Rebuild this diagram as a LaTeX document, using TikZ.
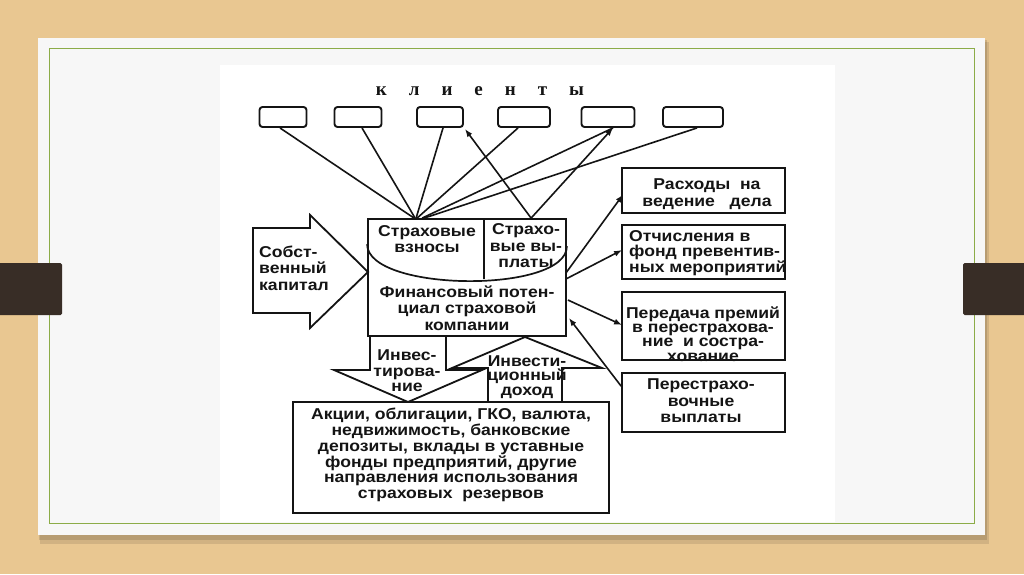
\documentclass[tikz,border=0pt]{standalone}
\usepackage{fontspec}
\setmainfont{Liberation Sans}
\newfontfamily\df[FakeStretch=1.12]{Liberation Sans}
\newfontfamily\tf{Liberation Serif}
\usetikzlibrary{calc,arrows.meta}
\definecolor{wood}{RGB}{233,199,145}
\definecolor{card}{RGB}{247,247,247}
\definecolor{gline}{RGB}{140,172,72}
\definecolor{tab}{RGB}{56,45,38}
\definecolor{ink}{RGB}{20,20,20}
\begin{document}
\begin{tikzpicture}[x=1pt,y=-1pt,
  box/.style={draw=ink, line width=1.8pt, inner sep=0pt},
  client/.style={draw=ink, line width=1.9pt, rounded corners=3pt, minimum height=20pt, inner sep=0pt},
  lbl/.style={font=\df\bfseries\fontsize{15.7}{16.5}\selectfont, text=ink, align=center, inner sep=0pt},
  con/.style={draw=ink, line width=1.6pt},
  arr/.style={con, -{Latex[length=8pt,width=6pt]}},
  bigarrow/.style={draw=ink, line width=1.8pt, line join=miter},
]
\useasboundingbox (0,0) rectangle (1024,574);
% background and slide
\fill[wood] (0,0) rectangle (1024,574);
\fill[black, opacity=0.10] (40,42) rectangle (989,544);
\fill[black, opacity=0.12] (39,40) rectangle (987,540);
\fill[card] (38,38) rectangle (985,535);
\fill[white] (220,65) rectangle (835,522);
\draw[gline, line width=1pt] (49,48) rectangle (974,523);
\fill[tab, rounded corners=1.5pt] (-5,263) rectangle (62,315);
\fill[tab, rounded corners=1.5pt] (963,263) rectangle (1030,315);

% title
\node[inner sep=0pt, text=ink, font=\tf\bfseries\fontsize{19}{19}\selectfont] (title) at (480,91)
  {к\hspace{22pt}л\hspace{22pt}и\hspace{22pt}е\hspace{22pt}н\hspace{22pt}т\hspace{22pt}ы};

% clients
\node[client, minimum width=47pt] (c1) at (283,117) {};
\node[client, minimum width=47pt] (c2) at (358,117) {};
\node[client, minimum width=46pt] (c3) at (440,117) {};
\node[client, minimum width=52pt] (c4) at (524,117) {};
\node[client, minimum width=53pt] (c5) at (608,117) {};
\node[client, minimum width=60pt] (c6) at (693,117) {};

% central box
\node[box, minimum width=198pt, minimum height=117pt] (C) at (467,277.5) {};
\coordinate (dtop) at ($(C.north west)+(117,0)$);
\coordinate (dbot) at ($(C.north west)+(117,61)$);
\draw[con, line width=1.7pt] (dtop) -- (dbot);
\coordinate (al) at ($(C.north west)+(0,26)$);
\coordinate (ar) at ($(C.north east)+(0,28)$);
\draw[con, line width=1.7pt] (al) .. controls ($(al)+(0,48)$) and ($(ar)+(0,48)$) .. (ar);
\node[lbl] (t1) at (427,239) {Страховые\\взносы};
\node[lbl] (t2) at (526,246) {Страхо-\\вые вы-\\платы};
\node[lbl] (t3) at (467,308) {Финансовый потен-\\циал страховой\\компании};

% left arrow
\draw[bigarrow] (253,228) -- (310,228) -- (310,215) -- (368,272) -- (310,328) -- (310,313) -- (253,313) -- cycle;
\node[lbl, align=left, anchor=west] (t4) at (259,268) {Собст-\\венный\\капитал};

% down arrow (investing)
\draw[bigarrow] (370,336) -- (446,336) -- (446,370) -- (482,370) -- (408,402) -- (334,370) -- (370,370) -- cycle;
\node[lbl, font=\df\bfseries\fontsize{15.7}{15.5}\selectfont] (t5) at (407,371) {Инвес-\\тирова-\\ние};
% up arrow (income)
\draw[bigarrow] (488,402) -- (562,402) -- (562,368) -- (602,368) -- (525,337) -- (452,368) -- (488,368) -- cycle;
\node[lbl, font=\df\bfseries\fontsize{15.7}{14.5}\selectfont] (t6) at (527,377) {Инвести-\\ционный\\доход};

% bottom box
\node[box, minimum width=316pt, minimum height=111pt] (B) at (451,457.5) {};
\node[lbl, font=\df\bfseries\fontsize{15.7}{15.8}\selectfont] (t7) at (451,455)
  {Акции, облигации, ГКО, валюта,\\недвижимость, банковские\\депозиты, вклады в уставные\\фонды предприятий, другие\\направления использования\\страховых~~резервов};

% right boxes
\node[box, minimum width=163pt, minimum height=45pt] (R1) at (703.5,190.5) {};
\node[lbl] (r1t) at (707,194) {Расходы~~на\\ведение~~~дела};
\node[box, minimum width=163pt, minimum height=54pt] (R2) at (703.5,252) {};
\node[lbl, align=left, anchor=west, font=\df\bfseries\fontsize{15.7}{15.5}\selectfont] (r2t) at (629,253) {Отчисления в\\фонд превентив-\\ных мероприятий};
\node[box, minimum width=163pt, minimum height=68pt] (R3) at (703.5,326) {};
\node[lbl, font=\df\bfseries\fontsize{15.7}{14.2}\selectfont] (r3t) at (703,334) {Передача премий\\в перестрахова-\\ние~~и состра-\\хование};
\node[box, minimum width=163pt, minimum height=59pt] (R4) at (703.5,402.5) {};
\node[lbl] (r4t) at (701,401) {Перестрахо-\\вочные\\выплаты};

% client connectors (contributions)
\draw[con] ($(c1.south)+(-3,0)$) -- ($(C.north west)+(47,0)$);
\draw[con] ($(c2.south)+(4,0)$) -- ($(C.north west)+(48,0)$);
\draw[con] ($(c3.south)+(3,0)$) -- ($(C.north west)+(49,0)$);
\draw[con] ($(c4.south)+(-6,0)$) -- ($(C.north west)+(50,0)$);
\draw[con] ($(c5.south)+(5,0)$) -- ($(C.north west)+(55,0)$);
\draw[con] ($(c6.south)+(4,0)$) -- ($(C.north west)+(57,0)$);
% payouts
\draw[arr] ($(C.north west)+(164,0)$) -- ($(c3.south east)+(1,1)$);
\draw[arr] ($(C.north west)+(164,0)$) -- ($(c5.south)+(5,0)$);

% right connectors
\draw[arr] ($(C.east)+(-1,-4.5)$) -- ($(R1.west)+(2,4)$);
\draw[arr] ($(C.east)+(-1,1.5)$) -- ($(R2.west)+(1,-2)$);
\draw[arr] ($(C.east)+(1,22.5)$) -- ($(R3.west)+(1,-1)$);
\draw[arr] ($(R4.north west)+(0,14)$) -- ($(C.east)+(2,40.5)$);
\end{tikzpicture}
\end{document}
